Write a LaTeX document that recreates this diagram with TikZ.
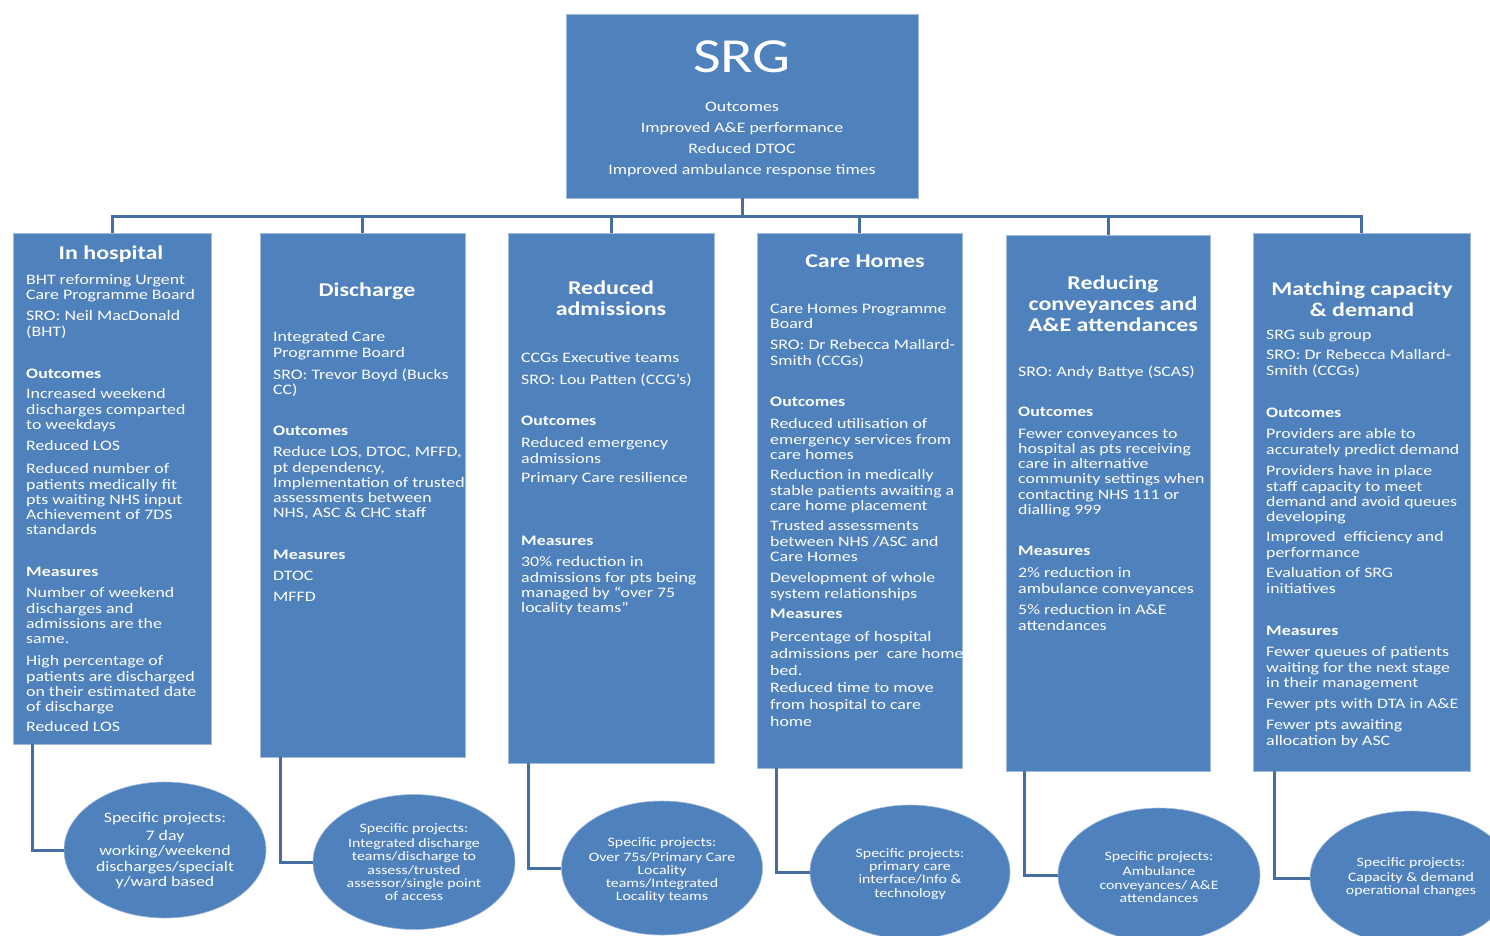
\documentclass[tikz,border=0pt]{standalone}
\usepackage{fontspec}
\setmainfont{Carlito}[FakeStretch=1.23]
\usetikzlibrary{shapes.geometric}
\definecolor{boxblue}{RGB}{79,129,189}
\definecolor{edgeblue}{RGB}{160,186,220}
\definecolor{linkblue}{RGB}{70,110,160}
\newcommand\bodyfnt{\fontsize{14.5}{15.3}\selectfont}
\newcommand\headfnt{\fontsize{19.5}{21}\selectfont\bfseries}
\newcommand\ellfnt{\fontsize{12.9}{13.2}\selectfont}
\begin{document}
\begin{tikzpicture}[x=1pt,y=-1pt,
  box/.style={rectangle, fill=boxblue, draw=edgeblue, line width=0.8pt, inner sep=0pt},
  ell/.style={ellipse, fill=boxblue, draw=edgeblue, line width=0.6pt, inner sep=0pt, text=white, align=center},
  conn/.style={draw=linkblue, line width=3pt},
  para/.style={anchor=north west, inner sep=0pt, align=left, text=white, font=\bodyfnt, yshift=-2pt},
  head/.style={anchor=center, inner sep=0pt, align=center, text=white, font=\headfnt, yshift=-2pt},
  bhead/.style={para, font=\bodyfnt\bfseries}]
\clip (0,0) rectangle (1490,935);
\fill[white] (0,0) rectangle (1490,935);

% SRG box
\node[box, minimum width=352, minimum height=184] (srg) at (742,106) {};
\node[text=white, font=\fontsize{49}{50}\selectfont, inner sep=0pt] (srgt) at (742,57) {SRG};
\node[text=white, font=\fontsize{14.5}{21}\selectfont, align=center, anchor=north, inner sep=0pt] (srgo) at (742,101.5)
  {Outcomes\\Improved A\&E performance\\Reduced DTOC\\Improved ambulance response times};

% column boxes
\node[box, minimum width=198, minimum height=511] (b1) at (112,488.5) {};
\node[box, minimum width=205, minimum height=524] (b2) at (362.5,495) {};
\node[box, minimum width=206, minimum height=530] (b3) at (611,498) {};
\node[box, minimum width=205, minimum height=535] (b4) at (859.5,500.5) {};
\node[box, minimum width=204, minimum height=536] (b5) at (1108,503) {};
\node[box, minimum width=217, minimum height=538] (b6) at (1361.5,502) {};

% top connectors
\coordinate (bar) at (742,216);
\draw[conn] (srg.south) -- (bar);
\foreach \b in {b1,b2,b3,b4,b5,b6} { \draw[conn] (bar) -| (\b.north); }

% ellipses
\node[ell, minimum width=202, minimum height=136] (e1) at (165,850) {};
\node[ell, minimum width=202, minimum height=135] (e2) at (414,862) {};
\node[ell, minimum width=201, minimum height=134] (e3) at (662,868) {};
\node[ell, minimum width=200, minimum height=134] (e4) at (910,872) {};
\node[ell, minimum width=202, minimum height=134] (e5) at (1159,875) {};
\node[ell, minimum width=202, minimum height=134] (e6) at (1411,878) {};

\draw[conn] ([xshift=20pt]b1.south west) |- (e1.west);
\draw[conn] ([xshift=21pt]b2.south west) |- (e2.west);
\draw[conn] ([xshift=21pt]b3.south west) |- (e3.west);
\draw[conn] ([xshift=20pt]b4.south west) |- (e4.west);
\draw[conn] ([xshift=19pt]b5.south west) |- (e5.west);
\draw[conn] ([xshift=22pt]b6.south west) |- (e6.west);

% ellipse texts
\node[text=white, align=center, inner sep=0pt, font=\fontsize{14.5}{15.5}\selectfont] (e1t) at (165,851)
  {Specific projects:\\[2pt]7 day\\working/weekend\\discharges/specialt\\y/ward based};
\node[text=white, align=center, inner sep=0pt, font=\ellfnt] (e2t) at (414,862)
  {Specific projects:\\[2pt]Integrated discharge\\teams/discharge to\\assess/trusted\\assessor/single point\\of access};
\node[text=white, align=center, inner sep=0pt, font=\ellfnt] (e3t) at (662,870)
  {Specific projects:\\[2pt]Over 75s/Primary Care\\Locality\\teams/Integrated\\Locality teams};
\node[text=white, align=center, inner sep=0pt, font=\ellfnt] (e4t) at (910,874)
  {Specific projects:\\primary care\\interface/Info \&\\technology};
\node[text=white, align=center, inner sep=0pt, font=\ellfnt] (e5t) at (1159,877)
  {Specific projects:\\[2pt]Ambulance\\conveyances/ A\&E\\attendances};
\node[text=white, align=center, inner sep=0pt, font=\ellfnt] (e6t) at (1411,877)
  {Specific projects:\\[2pt]Capacity \& demand\\operational changes};

% Box 1
\node[head] (h1) at (111,252) {In hospital};
\node[para] (p11) at (26,272.5) {BHT reforming Urgent\\Care Programme Board};
\node[para] (p12) at (26,308.5) {SRO: Neil MacDonald\\(BHT)};
\node[bhead] (p13) at (26,366.5) {Outcomes};
\node[para] (p14) at (26,386.5) {Increased weekend\\discharges comparted\\to weekdays};
\node[para] (p15) at (26,438.5) {Reduced LOS};
\node[para] (p16) at (26,461.5) {Reduced number of\\patients medically fit\\pts waiting NHS input\\Achievement of 7DS\\standards};
\node[bhead] (p17) at (26,564.5) {Measures};
\node[para] (p18) at (26,585.5) {Number of weekend\\discharges and\\admissions are the\\same.};
\node[para] (p19) at (26,653.5) {High percentage of\\patients are discharged\\on their estimated date\\of discharge};
\node[para] (p1a) at (26,719.5) {Reduced LOS};

% Box 2
\node[head] (h2) at (367,289) {Discharge};
\node[para] (p21) at (273,329.5) {Integrated Care\\Programme Board};
\node[para] (p22) at (273,366.5) {SRO: Trevor Boyd (Bucks\\CC)};
\node[bhead] (p23) at (273,423.5) {Outcomes};
\node[para] (p24) at (273,444.5) {Reduce LOS, DTOC, MFFD,\\pt dependency,\\Implementation of trusted\\assessments between\\NHS, ASC \& CHC staff};
\node[bhead] (p25) at (273,547.5) {Measures};
\node[para] (p26) at (273,568.5) {DTOC};
\node[para] (p27) at (273,589.5) {MFFD};

% Box 3
\node[head] (h3) at (611,296.5) {Reduced\\admissions};
\node[para] (p31) at (521,350.5) {CCGs Executive teams};
\node[para] (p32) at (521,371.5) {SRO: Lou Patten (CCG’s)};
\node[bhead] (p33) at (521,413.5) {Outcomes};
\node[para] (p34) at (521,435.5) {Reduced emergency\\admissions};
\node[para] (p35) at (521,470.5) {Primary Care resilience};
\node[bhead] (p36) at (521,533.5) {Measures};
\node[para] (p37) at (521,554.5) {30\% reduction in\\admissions for pts being\\managed by “over 75\\locality teams”};

% Box 4
\node[head] (h4) at (865,259) {Care Homes};
\node[para] (p41) at (770,301.5) {Care Homes Programme\\Board};
\node[para] (p42) at (770,337.5) {SRO: Dr Rebecca Mallard-\\Smith (CCGs)};
\node[bhead] (p43) at (770,394.5) {Outcomes};
\node[para] (p44) at (770,416.5) {Reduced utilisation of\\emergency services from\\care homes};
\node[para] (p45) at (770,467.5) {Reduction in medically\\stable patients awaiting a\\care home placement};
\node[para] (p46) at (770,518.5) {Trusted assessments\\between NHS /ASC and\\Care Homes};
\node[para] (p47) at (770,570.5) {Development of whole\\system relationships};
\node[bhead] (p48) at (770,606.5) {Measures};
\node[para, font=\fontsize{14.5}{17}\selectfont] (p49) at (770,629.5) {Percentage of hospital\\admissions per\ \ care home\\bed.\\Reduced time to move\\from hospital to care\\home};

% Box 5
\node[head] (h5) at (1113,301.5) {Reducing\\conveyances and\\A\&E attendances};
\node[para] (p51) at (1018,363.5) {SRO: Andy Battye (SCAS)};
\node[bhead] (p52) at (1018,404.5) {Outcomes};
\node[para] (p53) at (1018,426.5) {Fewer conveyances to\\hospital as pts receiving\\care in alternative\\community settings when\\contacting NHS 111 or\\dialling 999};
\node[bhead] (p54) at (1018,543.5) {Measures};
\node[para] (p55) at (1018,565.5) {2\% reduction in\\ambulance conveyances};
\node[para] (p56) at (1018,602.5) {5\% reduction in A\&E\\attendances};

% Box 6
\node[head] (h6) at (1362,297.5) {Matching capacity\\\& demand};
\node[para] (p61) at (1266,327.5) {SRG sub group};
\node[para] (p62) at (1266,347.5) {SRO: Dr Rebecca Mallard-\\Smith (CCGs)};
\node[bhead] (p63) at (1266,405.5) {Outcomes};
\node[para] (p64) at (1266,426.5) {Providers are able to\\accurately predict demand};
\node[para] (p65) at (1266,463.5) {Providers have in place\\staff capacity to meet\\demand and avoid queues\\developing};
\node[para] (p66) at (1266,529.5) {Improved\ \ efficiency and\\performance};
\node[para] (p67) at (1266,565.5) {Evaluation of SRG\\initiatives};
\node[bhead] (p68) at (1266,623.5) {Measures};
\node[para] (p69) at (1266,644.5) {Fewer queues of patients\\waiting for the next stage\\in their management};
\node[para] (p6a) at (1266,696.5) {Fewer pts with DTA in A\&E};
\node[para] (p6b) at (1266,717.5) {Fewer pts awaiting\\allocation by ASC};
\end{tikzpicture}
\end{document}
